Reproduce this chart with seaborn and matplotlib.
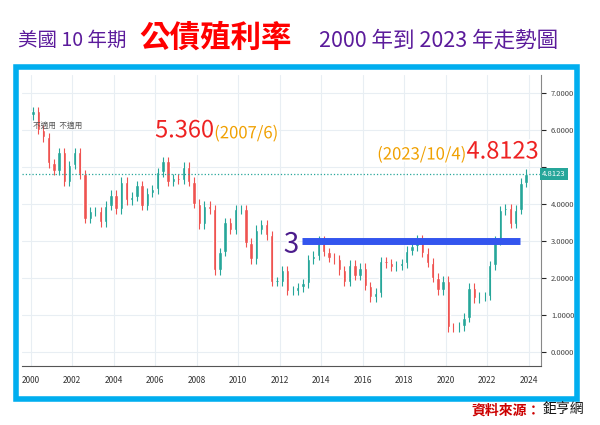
import numpy as np
import pandas as pd
import matplotlib.pyplot as plt
import matplotlib.patheffects as pe
from matplotlib.patches import Rectangle
import seaborn as sns

# quarterly closes of US 10Y yield
years = list(range(2000, 2024))
closes = [
    6.5, 6.0, 5.8, 5.1,
    4.9, 5.4, 4.6, 5.05,
    5.4, 4.8, 3.6, 3.8,
    3.8, 3.5, 3.95, 4.25,
    3.85, 4.6, 4.1, 4.2,
    4.5, 3.95, 4.3, 4.4,
    4.85, 5.15, 4.6, 4.7,
    4.65, 5.0, 4.6, 4.0,
    3.45, 3.95, 3.85, 2.2,
    2.7, 3.5, 3.3, 3.85,
    3.85, 2.95, 2.5, 3.3,
    3.45, 3.15, 1.9, 1.9,
    2.2, 1.65, 1.65, 1.75,
    1.85, 2.5, 2.6, 3.0,
    2.7, 2.55, 2.5, 2.2,
    1.9, 2.35, 2.05, 2.27,
    1.78, 1.47, 1.6, 2.45,
    2.4, 2.3, 2.33, 2.4,
    2.74, 2.85, 3.05, 2.68,
    2.41, 2.0, 1.67, 1.92,
    0.67, 0.66, 0.69, 0.92,
    1.74, 1.45, 1.49, 1.51,
    2.34, 3.01, 3.83, 3.88,
    3.47, 3.84, 4.57, 4.81,
]
opens = [6.4] + closes[:-1]
last_value = 4.8123
peak_value = 5.360
support = 3.0
x_ticks = list(range(2000, 2025, 2))
y_ticks = [0, 1, 2, 3, 4, 5, 6, 7]

df = pd.DataFrame({
    "t": [y + q * 0.25 + 0.125 for y in years for q in range(4)],
    "open": opens,
    "close": closes,
})
df["up"] = df["close"] >= df["open"]

sns.set_style("white")
plt.rcParams["font.family"] = ["Noto Sans CJK TC", "DejaVu Sans"]

fig = plt.figure(figsize=(6, 4.25), dpi=100)
ax = fig.add_axes([0.037, 0.139, 0.865, 0.685])

green, red = "#26a69a", "#ef5350"
for _, r in df.iterrows():
    c = green if r["up"] else red
    lo, hi = min(r["open"], r["close"]), max(r["open"], r["close"])
    ax.vlines(r["t"], lo - 0.12, hi + 0.12, color=c, lw=0.8)
    ax.bar(r["t"], max(hi - lo, 0.03), bottom=lo, width=0.16, color=c)
sns.lineplot(x=df["t"], y=df["close"], ax=ax, color=green, lw=0, legend=False)

ax.set_xlim(1999.6, 2024.6)
ax.set_ylim(-0.38, 7.49)
ax.set_xticks(x_ticks)
ax.set_xticklabels([str(v) for v in x_ticks], fontsize=6, color="#333333")
ax.yaxis.tick_right()
ax.set_yticks(y_ticks)
# 5.0000 sits under the price tag in the original
ax.set_yticklabels(["" if v == 5 else f"{v:.4f}" for v in y_ticks], fontsize=5.5, color="#444444")
ax.grid(True, color="#e8eef3", lw=0.8)
ax.set_xlabel("")
ax.set_ylabel("")
for s in ["top", "left"]:
    ax.spines[s].set_visible(False)
ax.spines["bottom"].set_color("#555555")
ax.spines["right"].set_color("#888888")

ax.axhline(last_value, color=green, ls=":", lw=0.9)
ax.text(2024.65, last_value, f"{last_value:.4f}", fontsize=5.5, color="white", va="center",
        bbox=dict(boxstyle="square,pad=0.3", fc=green, ec="none"), clip_on=False)
ax.hlines(support, 2013.1, 2023.6, color="#3355ee", lw=5)

stroke = [pe.withStroke(linewidth=3, foreground="white")]
t1 = ax.text(2006.0, 5.8, f"{peak_value:.3f}", fontsize=17, color="#ee2222", va="baseline", path_effects=stroke)
ax.annotate("(2007/6)", xy=(1, 0), xycoords=t1, va="bottom", fontsize=12, color="#f0a000", path_effects=stroke)
t2 = ax.text(2016.7, 5.2, "(2023/10/4)", fontsize=12, color="#f0a000", va="baseline", path_effects=stroke)
ax.annotate(f"{last_value:.4f}", xy=(1, 0), xycoords=t2, va="bottom", fontsize=17, color="#ee2222", path_effects=stroke)
ax.text(2012.2, 2.9, "3", fontsize=20, color="#4b1c8c", va="center", path_effects=stroke)
ax.text(2000.1, 6.05, "不適用  不適用", fontsize=5.5, color="#555555")

fig.patches.append(Rectangle((16 / 600, 26 / 425), 561 / 600, 332 / 425, transform=fig.transFigure,
                             fill=False, ec="#00aeef", lw=4))

fig.text(0.03, 0.905, "美國 10 年期", fontsize=14, color="#5b1b9b", va="center")
fig.text(0.232, 0.912, "公債殖利率", fontsize=22, color="#ff0000", va="center", weight="bold")
fig.text(0.532, 0.905, "2000 年到 2023 年走勢圖", fontsize=15.5, color="#5b1b9b", va="center")
fig.text(0.785, 0.035, "資料來源：", fontsize=10, color="#cc0000", weight="bold", va="center")
fig.text(0.905, 0.035, "鉅亨網", fontsize=10, color="#111111", va="center")

fig.savefig("out.png", dpi=100)
